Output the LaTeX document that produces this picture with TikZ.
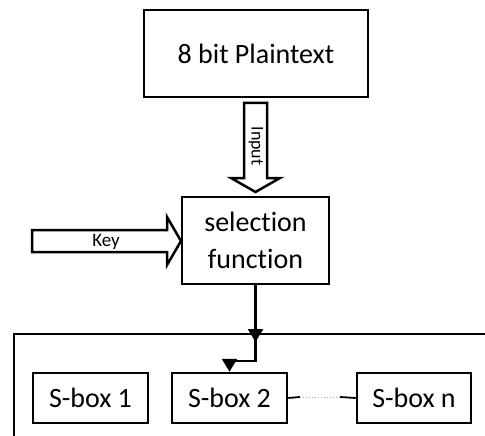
\documentclass[tikz,border=0pt]{standalone}
\usepackage{fontspec}
\setmainfont{Carlito}[Ligatures=NoCommon]
\usetikzlibrary{positioning, arrows.meta}

\begin{document}
\begin{tikzpicture}[
        x=1pt, y=-1pt,
        box/.style={rectangle, draw=black, line width=2.5pt, fill=white, align=center, font=\fontsize{28}{37}\selectfont, inner sep=0pt},
        arrow/.style={line width=2.3pt, -{Triangle[length=13pt, width=15pt]}},
        blockarrow/.style={draw=black, line width=2.5pt, fill=white, line join=miter}
        ]
        \useasboundingbox (0,0) rectangle (485,436);

        \node[box, minimum width=224pt, minimum height=87pt] (plain) at (256,53.5) {8 bit Plaintext};
        \node[box, minimum width=147pt, minimum height=87pt] (select) at (255.5,240.5) {selection\\function};
        \node[box, minimum width=115pt, minimum height=50pt] (sbox1) at (90.5,398) {S-box 1};
        \node[box, minimum width=115pt, minimum height=50pt] (sbox2) at (229.5,398) {S-box 2};
        \node[box, minimum width=114pt, minimum height=50pt] (sboxn) at (414,398) {S-box n};

        % block arrows
        \draw[blockarrow] (244,103) -- (267,103) -- (267,178) -- (280,178) -- (255.5,192)
            -- (231,178) -- (244,178) -- cycle;
        \node[rotate=-90, font=\fontsize{18}{20}\selectfont, inner sep=0pt] (input) at (256,146) {Input};
        \draw[blockarrow] (32,230) -- (167,230) -- (167,217) -- (181,241) -- (167,265)
            -- (167,252) -- (32,252) -- cycle;
        \node[font=\fontsize{19}{21}\selectfont, inner sep=0pt] (key) at (106,242) {Key};

        % container
        \coordinate (corner) at (14,334);
        \coordinate (top) at (255.5,334);
        \coordinate (bend) at (255.5,361);
        \draw[line width=2.5pt] (14,440) -- (corner) -- (490,334);

        \draw[arrow] (select) -- (255.5,342);
        \draw[arrow] (top) -- (bend) -| (sbox2.north);

        % dotted link
        \coordinate (d1) at (300,397);
        \coordinate (d2) at (340,397);
        \draw[line width=1.8pt] (sbox2.east) -- (d1);
        \draw[line width=1pt, gray!60, dotted] (d1) -- (d2);
        \draw[line width=1.8pt] (d2) -- (sboxn.west);
    \end{tikzpicture}
\end{document}
